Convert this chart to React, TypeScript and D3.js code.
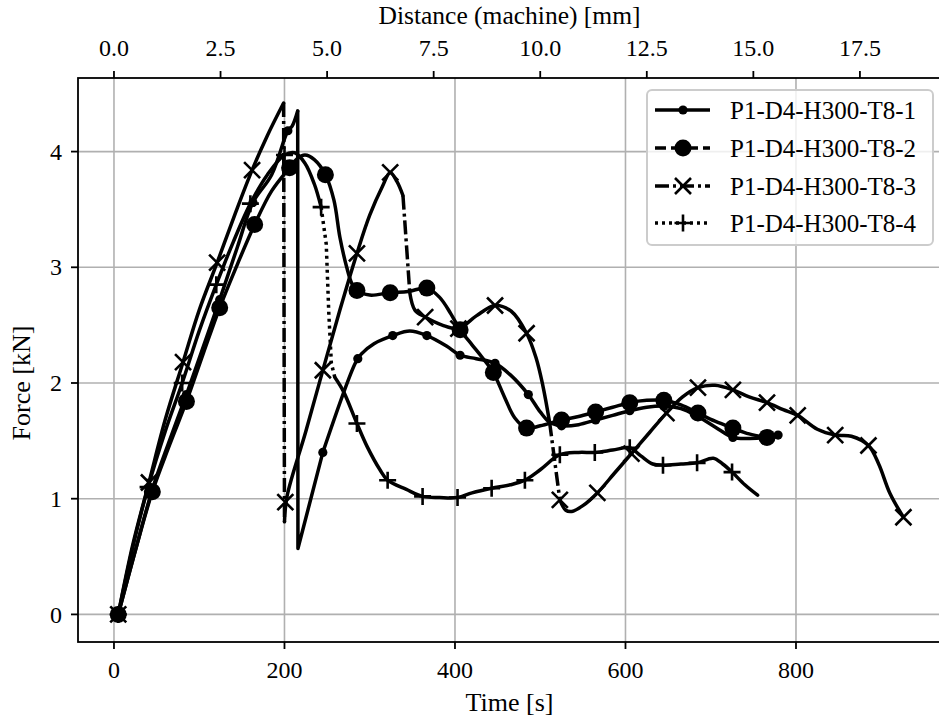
import React from 'react';
import * as d3 from 'd3';

const W = 939;
const H = 720;
const PLOT = { left: 78, right: 941, top: 78, bottom: 642 };

const seriesLabels = ['P1-D4-H300-T8-1', 'P1-D4-H300-T8-2', 'P1-D4-H300-T8-3', 'P1-D4-H300-T8-4'];
const timeTicks = [0, 200, 400, 600, 800];
const forceTicks = [0, 1, 2, 3, 4];
const distanceTicks = [0, 2.5, 5, 7.5, 10, 12.5, 15, 17.5];
const mmPerSecond = 0.02;
const timeDomain = [-42.2, 970.1];
const forceDomain = [-0.2385, 4.636];

// ---- T8-1 (solid, small dots)
const t81Line: number[][] = [
  [5, 0], [25, 0.55], [45, 1.08], [65, 1.5], [85, 1.9], [105, 2.32], [124, 2.72], [145, 3.18], [163, 3.56],
  [185, 3.8], [204, 4.18], [209, 4.22], [215.5, 4.35], [215.8, 0.57], [245, 1.4], [283, 2.17], [290, 2.25],
  [305, 2.34], [327, 2.41], [347, 2.45], [367, 2.41], [390, 2.32], [406, 2.24], [425, 2.21], [447, 2.17],
  [465, 2.07], [486, 1.9], [500, 1.75], [511, 1.66], [525, 1.63], [545, 1.64], [565, 1.68], [585, 1.72],
  [605, 1.76], [625, 1.79], [645, 1.8], [665, 1.78], [685, 1.71], [705, 1.62], [726, 1.53], [745, 1.52],
  [766, 1.53], [779, 1.55],
];
const t81Marks: number[][] = [
  [5, 0], [45, 1.08], [85, 1.9], [124, 2.72], [163, 3.56], [204, 4.18], [245, 1.4], [286, 2.21], [327, 2.41],
  [367, 2.41], [406, 2.24], [447, 2.17], [486, 1.9], [525, 1.63], [565, 1.68], [605, 1.76], [645, 1.8],
  [685, 1.71], [726, 1.53], [779, 1.55],
];
const t81Spans: number[][] = [[215.5, 245]];

// ---- T8-2 (dashed, big dots)
const t82Line: number[][] = [
  [5, 0], [25, 0.55], [45, 1.06], [65, 1.46], [85, 1.84], [105, 2.26], [124, 2.65], [145, 3.03], [165, 3.37],
  [185, 3.66], [206, 3.86], [215, 3.94], [224, 3.97], [235, 3.93], [248, 3.8], [258, 3.58], [265, 3.26],
  [273, 3.0], [279, 2.86], [285, 2.8], [300, 2.76], [324, 2.78], [345, 2.79], [367, 2.82], [382, 2.74],
  [395, 2.6], [406, 2.46], [420, 2.33], [432, 2.22], [445, 2.09], [458, 1.88], [470, 1.7], [484, 1.61],
  [500, 1.63], [525, 1.68], [545, 1.71], [565, 1.75], [585, 1.79], [605, 1.83], [625, 1.85], [645, 1.85],
  [665, 1.81], [685, 1.74], [705, 1.67], [726, 1.61], [745, 1.56], [766, 1.53],
];
const t82Marks: number[][] = [
  [5, 0], [45, 1.06], [85, 1.84], [124, 2.65], [165, 3.37], [206, 3.86], [248, 3.8], [285, 2.8], [324, 2.78],
  [367, 2.82], [406, 2.46], [445, 2.09], [484, 1.61], [525, 1.68], [565, 1.75], [605, 1.83], [645, 1.85],
  [685, 1.74], [726, 1.61], [766, 1.53],
];
const t82Spans: number[][] = [];

// ---- T8-3 (dash-dot, x markers)
const t83Line: number[][] = [
  [5, 0], [22, 0.6], [41, 1.14], [60, 1.68], [81, 2.18], [100, 2.63], [121, 3.04], [142, 3.46], [162, 3.84],
  [180, 4.14], [199, 4.42], [200, 0.8], [203, 1.02], [225, 1.58], [245, 2.11], [265, 2.63], [285, 3.12],
  [300, 3.45], [315, 3.7], [324, 3.82], [332, 3.74], [339, 3.62], [343, 3.2], [347, 2.78], [353, 2.63],
  [365, 2.57], [385, 2.5], [404, 2.47], [425, 2.58], [447, 2.67], [466, 2.62], [484, 2.43], [495, 2.22],
  [503, 1.98], [511, 1.66], [523, 0.99], [530, 0.9], [537, 0.89], [550, 0.94], [567, 1.05], [587, 1.22],
  [607, 1.39], [628, 1.57], [648, 1.74], [667, 1.88], [685, 1.96], [705, 1.98], [726, 1.94], [745, 1.88],
  [766, 1.83], [785, 1.77], [802, 1.72], [825, 1.6], [846, 1.55], [865, 1.54], [885, 1.46], [897, 1.3],
  [910, 1.05], [926, 0.84],
];
const t83Marks: number[][] = [
  [5, 0], [41, 1.14], [81, 2.18], [121, 3.04], [162, 3.84], [201, 0.97], [245, 2.11], [285, 3.12], [324, 3.82],
  [365, 2.57], [404, 2.47], [447, 2.67], [484, 2.43], [523, 0.99], [567, 1.05], [607, 1.39], [648, 1.74],
  [685, 1.96], [726, 1.94], [766, 1.83], [802, 1.72], [846, 1.55], [885, 1.46], [926, 0.84],
];
const t83Spans: number[][] = [[199, 200], [339, 347], [511, 523]];

// ---- T8-4 (dotted, + markers)
const t84Line: number[][] = [
  [5, 0], [22, 0.58], [40, 1.1], [60, 1.58], [80, 2.0], [100, 2.45], [120, 2.85], [140, 3.22], [160, 3.55],
  [180, 3.8], [200, 3.97], [212, 3.99], [224, 3.9], [235, 3.72], [243, 3.52], [249, 3.2], [252, 2.6],
  [255, 2.17], [259, 2.05], [269, 1.93], [285, 1.65], [297, 1.45], [312, 1.25], [321, 1.16], [343, 1.08],
  [362, 1.02], [382, 1.01], [403, 1.01], [420, 1.05], [443, 1.09], [465, 1.12], [482, 1.16], [500, 1.25],
  [523, 1.38], [545, 1.4], [564, 1.4], [585, 1.42], [605, 1.44], [618, 1.37], [632, 1.3], [644, 1.29],
  [665, 1.3], [684, 1.31], [703, 1.35], [714, 1.3], [725, 1.23], [740, 1.12], [755, 1.03],
];
const t84Marks: number[][] = [
  [5, 0], [40, 1.1], [80, 2.0], [120, 2.85], [160, 3.55], [200, 3.97], [243, 3.52], [285, 1.65], [321, 1.16],
  [362, 1.02], [403, 1.01], [443, 1.09], [482, 1.16], [523, 1.38], [564, 1.4], [605, 1.44], [644, 1.29],
  [684, 1.31], [725, 1.23],
];
const t84Spans: number[][] = [[243, 259]];

const seriesData = [
  { line: t81Line, marks: t81Marks, spans: t81Spans },
  { line: t82Line, marks: t82Marks, spans: t82Spans },
  { line: t83Line, marks: t83Marks, spans: t83Spans },
  { line: t84Line, marks: t84Marks, spans: t84Spans },
];

const seriesStyle = [
  { marker: 'smalldot', dash: '' },
  { marker: 'bigdot', dash: '11,5' },
  { marker: 'x', dash: '14,4,3,4' },
  { marker: 'plus', dash: '3,4' },
];

const FONT = "'Liberation Serif', 'DejaVu Serif', serif";
const LW = 3.5;

function splitRuns(points: number[][], spans: number[][]) {
  const inSpan = (a: number[], b: number[]) => spans.some(([s, e]) => a[0] >= s && b[0] <= e);
  const out: { styled: boolean; pts: number[][] }[] = [];
  for (let i = 0; i < points.length - 1; i++) {
    const st = inSpan(points[i], points[i + 1]);
    const last = out[out.length - 1];
    if (last && last.styled === st) last.pts.push(points[i + 1]);
    else out.push({ styled: st, pts: [points[i], points[i + 1]] });
  }
  return out;
}

function Marker({ kind, cx, cy }: { kind: string; cx: number; cy: number }) {
  if (kind === 'smalldot') return <circle cx={cx} cy={cy} r={4.6} fill="#000" />;
  if (kind === 'bigdot') return <circle cx={cx} cy={cy} r={8.5} fill="#000" />;
  if (kind === 'x') {
    const h = 8;
    return (
      <path d={`M${cx - h},${cy - h}L${cx + h},${cy + h}M${cx - h},${cy + h}L${cx + h},${cy - h}`}
        stroke="#000" strokeWidth={2.6} fill="none" />
    );
  }
  const h = 8.5;
  return (
    <path d={`M${cx - h},${cy}L${cx + h},${cy}M${cx},${cy - h}L${cx},${cy + h}`}
      stroke="#000" strokeWidth={2.6} fill="none" />
  );
}

export default function App() {
  const x = d3.scaleLinear().domain(timeDomain).range([PLOT.left, PLOT.right]);
  const y = d3.scaleLinear().domain(forceDomain).range([PLOT.bottom, PLOT.top]);
  const xTop = d3.scaleLinear().domain(timeDomain.map((t) => t * mmPerSecond)).range([PLOT.left, PLOT.right]);

  const smooth = d3.line<number[]>().x((d) => x(d[0])).y((d) => y(d[1])).curve(d3.curveCatmullRom.alpha(0.5));
  const straight = d3.line<number[]>().x((d) => x(d[0])).y((d) => y(d[1]));

  const legendX = 647;
  const legendY = 90;
  const legendW = 286;
  const legendH = 155;
  const rowY = [110, 148, 186, 223];

  return (
    <svg width={W} height={H} style={{ position: 'absolute', left: 0, top: 0, background: '#fff' }}
      fontFamily={FONT}>
      <rect x={0} y={0} width={W} height={H} fill="#fff" />
      <defs>
        <clipPath id="plotclip">
          <rect x={PLOT.left} y={PLOT.top} width={PLOT.right - PLOT.left} height={PLOT.bottom - PLOT.top} />
        </clipPath>
      </defs>
      {/* grid */}
      <g stroke="#b0b0b0" strokeWidth={1.6}>
        {timeTicks.map((t) => (
          <line key={'gx' + t} x1={x(t)} x2={x(t)} y1={PLOT.top} y2={PLOT.bottom} />
        ))}
        {forceTicks.map((f) => (
          <line key={'gy' + f} x1={PLOT.left} x2={PLOT.right} y1={y(f)} y2={y(f)} />
        ))}
      </g>
      {/* series */}
      <g clipPath="url(#plotclip)">
        {seriesData.map((s, si) => {
          const st = seriesStyle[si];
          const runs = splitRuns(s.line, s.spans);
          return (
            <g key={'s' + si}>
              {runs.map((r, ri) => (
                <path key={ri} d={(r.styled ? straight(r.pts) : smooth(r.pts)) || ''} fill="none" stroke="#000"
                  strokeWidth={LW} strokeLinejoin="round"
                  strokeLinecap={r.styled && st.dash ? 'butt' : 'round'}
                  strokeDasharray={r.styled && st.dash ? st.dash : undefined} />
              ))}
              {s.marks.map((m, mi) => (
                <Marker key={mi} kind={st.marker} cx={x(m[0])} cy={y(m[1])} />
              ))}
            </g>
          );
        })}
      </g>
      {/* spines */}
      <rect x={PLOT.left} y={PLOT.top} width={PLOT.right - PLOT.left} height={PLOT.bottom - PLOT.top}
        fill="none" stroke="#000" strokeWidth={1.8} />
      {/* bottom axis */}
      {timeTicks.map((t) => (
        <g key={'bt' + t}>
          <line x1={x(t)} x2={x(t)} y1={PLOT.bottom} y2={PLOT.bottom + 7} stroke="#000" strokeWidth={1.8} />
          <text x={x(t)} y={678} textAnchor="middle" fontSize={24}>{t}</text>
        </g>
      ))}
      <text x={(PLOT.left + PLOT.right) / 2} y={711} textAnchor="middle" fontSize={26}>Time [s]</text>
      {/* top axis */}
      {distanceTicks.map((d) => (
        <g key={'tt' + d}>
          <line x1={xTop(d)} x2={xTop(d)} y1={PLOT.top} y2={PLOT.top - 7} stroke="#000" strokeWidth={1.8} />
          <text x={xTop(d)} y={56} textAnchor="middle" fontSize={24}>{d3.format('.1f')(d)}</text>
        </g>
      ))}
      <text x={(PLOT.left + PLOT.right) / 2} y={24} textAnchor="middle" fontSize={25.5}>Distance (machine) [mm]</text>
      {/* left axis */}
      {forceTicks.map((f) => (
        <g key={'lt' + f}>
          <line x1={PLOT.left} x2={PLOT.left - 7} y1={y(f)} y2={y(f)} stroke="#000" strokeWidth={1.8} />
          <text x={62} y={y(f)} dy="0.34em" textAnchor="end" fontSize={24}>{f}</text>
        </g>
      ))}
      <text transform={`translate(30,383) rotate(-90)`} textAnchor="middle"
        fontSize={26}>Force [kN]</text>
      {/* legend */}
      <rect x={legendX} y={legendY} width={legendW} height={legendH} rx={5} fill="#fff" fillOpacity={0.8}
        stroke="#cccccc" strokeWidth={2} />
      {seriesLabels.map((lab, i) => {
        const st = seriesStyle[i];
        const ry = rowY[i];
        return (
          <g key={'lg' + i}>
            <line x1={655} x2={710} y1={ry} y2={ry} stroke="#000" strokeWidth={LW}
              strokeDasharray={st.dash || undefined} />
            <Marker kind={st.marker} cx={683} cy={ry} />
            <text x={730} y={ry} dy="0.34em" fontSize={25}>{lab}</text>
          </g>
        );
      })}
    </svg>
  );
}
